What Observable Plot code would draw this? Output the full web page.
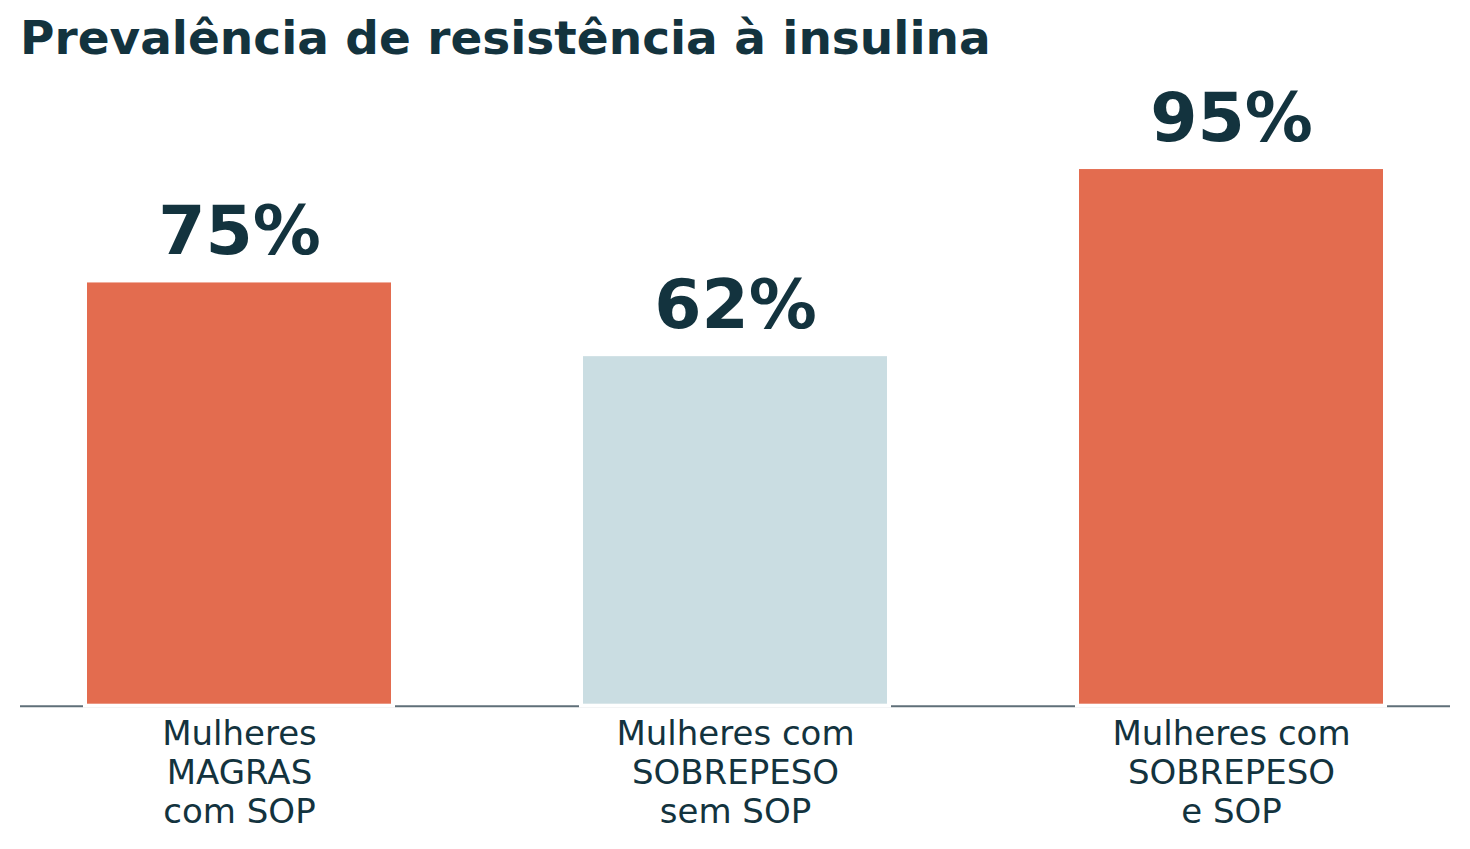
<!DOCTYPE html>
<html>
<head>
<meta charset="utf-8">
<script src="https://cdn.jsdelivr.net/npm/d3@7"></script>
<script src="https://cdn.jsdelivr.net/npm/@observablehq/plot@0.6"></script>
<style>
  html, body { margin: 0; padding: 0; background: #fff; }
  #title {
    height: 60px; line-height: 75.4px; margin: 0; padding-left: 20px;
    font-family: "DejaVu Sans", sans-serif; font-weight: bold; font-size: 47px;
    color: #13333e; white-space: nowrap; overflow: visible;
  }
  #chart svg { display: block; }
</style>
</head>
<body>
<div id="title">Prevalência de resistência à insulina</div>
<div id="chart"></div>
<script>
// Insulin-resistance prevalence by group
const groups = ["magras_sop", "sobrepeso_sem_sop", "sobrepeso_sop"];
const groupLabels = ["Mulheres\nMAGRAS\ncom SOP", "Mulheres com\nSOBREPESO\nsem SOP", "Mulheres com\nSOBREPESO\ne SOP"];
const prevalence = [75, 62, 95];
const barColors = ["#e36c4f", "#cadde2", "#e36c4f"];

const data = groups.map((g, i) => ({
  group: g,
  label: groupLabels[i],
  value: prevalence[i],
  color: barColors[i],
  valueText: `${prevalence[i]}%`
}));

const ink = "#13333e";

const chart = Plot.plot({
  width: 1470,
  height: 789,
  marginLeft: 20,
  marginRight: 20,
  marginTop: 78.7,
  marginBottom: 143.3,
  style: { fontFamily: "DejaVu Sans, sans-serif", background: "#fff" },
  x: { domain: groups, axis: null, paddingInner: 0.379, paddingOuter: 0.131 },
  y: { domain: [0, 100], axis: null },
  color: { type: "identity" },
  marks: [
    Plot.ruleY([0], { stroke: "#5f6f78", strokeWidth: 2 }),
    Plot.barY(data, { x: "group", y: "value", fill: "color", stroke: "#fff", strokeWidth: 4 }),
    Plot.text(data, {
      x: "group", y: "value", text: "valueText",
      fill: ink, fontSize: 68, fontWeight: "bold",
      lineAnchor: "bottom", dy: -27
    }),
    Plot.text(data, {
      x: "group", y: 0, text: "label",
      fill: ink, fontSize: 34, lineHeight: 1.15,
      lineAnchor: "top", dy: 11
    })
  ]
});

document.getElementById("chart").appendChild(chart);
</script>
</body>
</html>
